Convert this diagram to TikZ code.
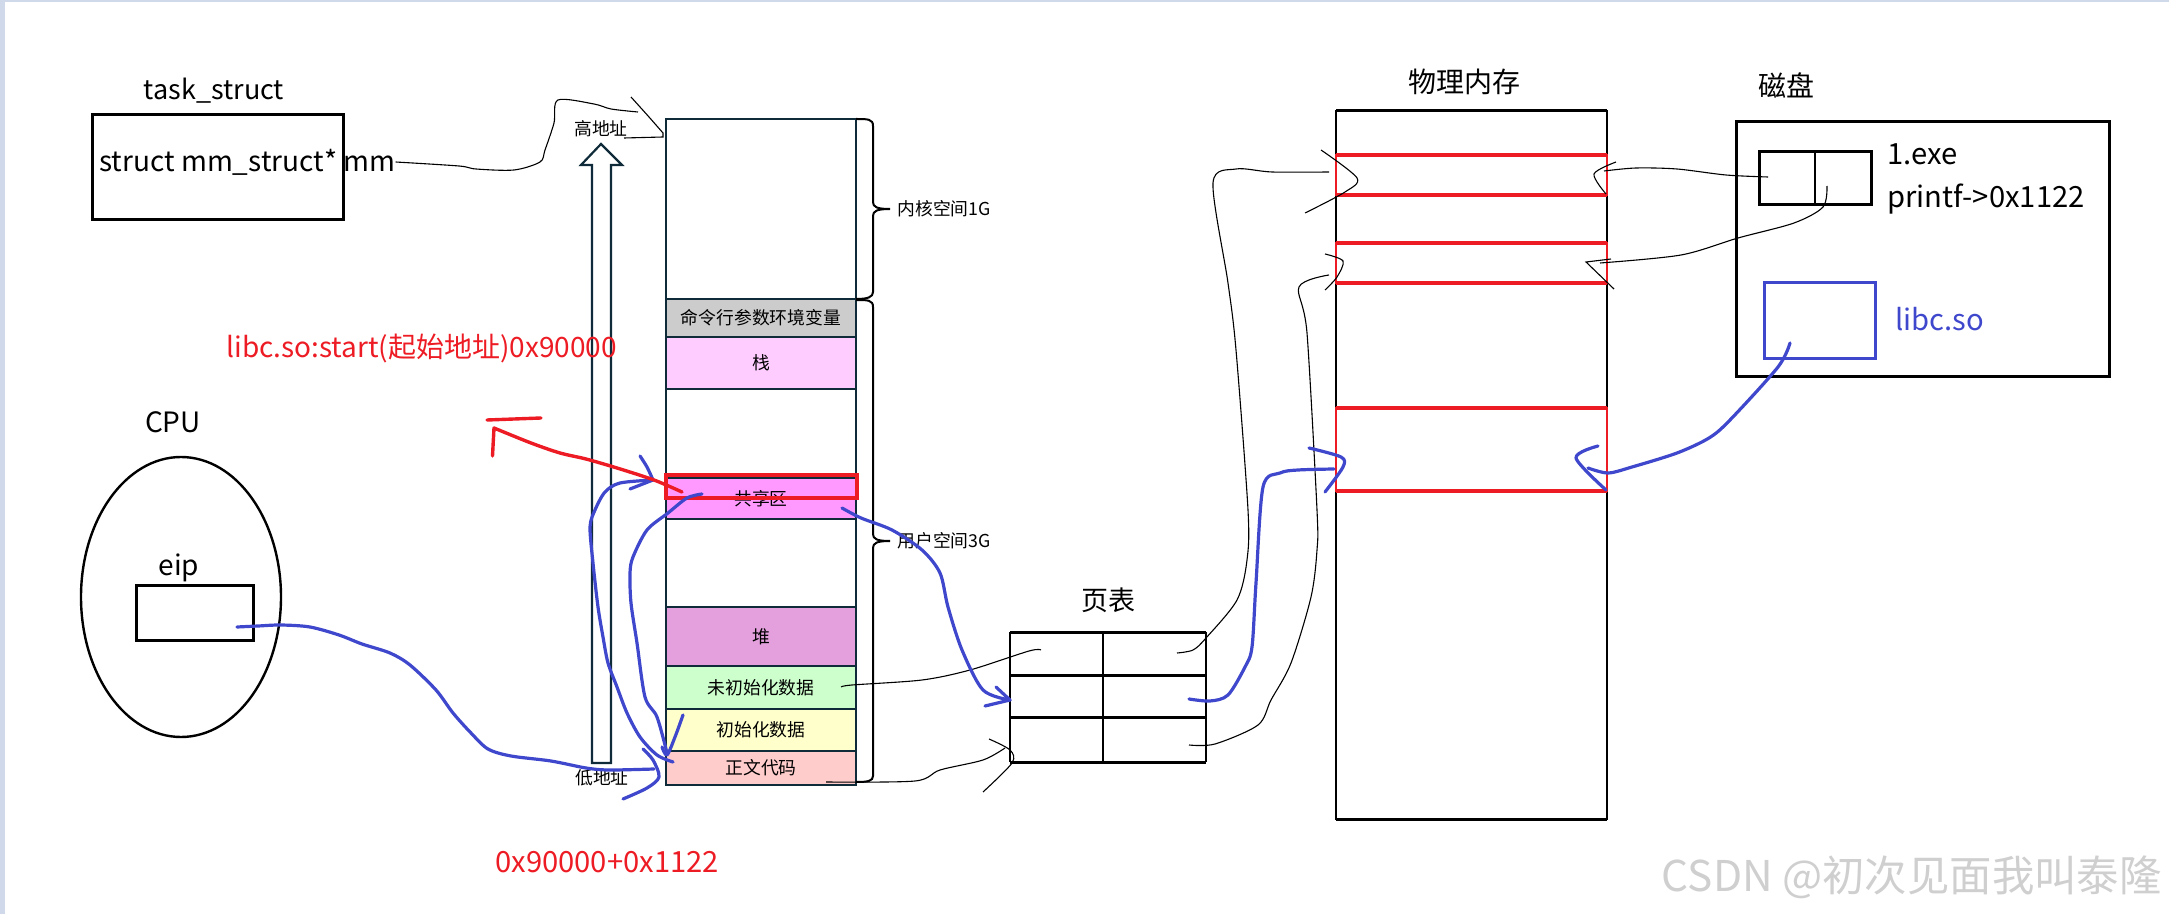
\documentclass[tikz,border=0pt]{standalone}
\usepackage{fontspec}
\usetikzlibrary{shapes.geometric}
\setmainfont{Noto Sans CJK SC}
\definecolor{inkblue}{HTML}{3F48CC}
\definecolor{inkred}{HTML}{ED1C24}
\definecolor{memline}{HTML}{0F2B3A}
\definecolor{framegray}{HTML}{CFD9EA}
\definecolor{markgray}{HTML}{CFCFCF}
\tikzset{
    smalltxt/.style={font=\fontsize{8.9pt}{10pt}\selectfont, inner sep=0pt},
    bigtxt/.style={font=\fontsize{13.5pt}{15pt}\selectfont, inner sep=0pt},
    midtxt/.style={font=\fontsize{14pt}{16pt}\selectfont, inner sep=0pt},
    widetxt/.style={font=\fontsize{14.6pt}{16pt}\selectfont, inner sep=0pt},
    memcell/.style={draw=memline, line width=1.2pt, minimum width=95pt, inner sep=0pt, outer sep=0pt},
    blackbox/.style={draw=black, line width=1.5pt, inner sep=0pt, outer sep=0pt},
    heavypen/.style={black, line width=1.5pt},
    lightpen/.style={black, line width=1pt},
    hair/.style={black, line width=0.55pt},
    bluepen/.style={inkblue, line width=1.6pt, line cap=round, line join=round},
    redpen/.style={inkred, line width=1.7pt, line cap=round, line join=round},
    ink/.style={smooth, tension=0.5}
}
\begin{document}
\begin{tikzpicture}[x=0.5pt, y=-0.5pt]
    \useasboundingbox (0,0) rectangle (2169,914);
    \fill[framegray] (0,0) rectangle (2169,2);
    \fill[framegray] (0,0) rectangle (5,914);

    % task_struct
    \node[bigtxt] (task_label) at (214,91) {task\_struct};
    \node[blackbox, minimum width=125.5pt, minimum height=52.5pt] (task_box) at (217.5,167.5) {};
    \node[midtxt, anchor=west] (mm_text) at (99,162) {struct mm\_struct* mm};

    % CPU
    \node[midtxt] (cpu_label) at (173,422) {CPU};
    \node[draw, ellipse, line width=1.2pt, minimum width=100pt, minimum height=140pt, inner sep=0pt] (cpu) at (181,597) {};
    \node[blackbox, minimum width=58.5pt, minimum height=27.5pt] (eip_box) at (194.5,612.5) {};
    \node[midtxt] (eip_label) at (179,568) {eip};
    \coordinate (eip_out) at (237,627);

    % address arrow
    \draw[memline, line width=1.1pt, line join=miter] (592,763) -- (592,165) -- (581,165) -- (601,144)
        -- (622,165) -- (611,165) -- (611,763) -- cycle;
    \node[smalltxt] (high_addr) at (601,129) {高地址};
    \node[smalltxt] (low_addr) at (602,778) {低地址};

    % address space
    \node[memcell, minimum height=90pt] (kernel) at (761,209) {};
    \node[memcell, fill=gray!40, minimum height=19pt, smalltxt] (args) at (761,318) {命令行参数环境变量};
    \node[memcell, fill={rgb,255:red,255;green,204;blue,255}, minimum height=26pt, smalltxt] (stack) at (761,363) {栈};
    \node[memcell, minimum height=44.5pt] (gap_top) at (761,433.5) {};
    \node[memcell, fill={rgb,255:red,255;green,153;blue,255}, minimum height=20.5pt, smalltxt] (shared) at (761,498.5) {共享区};
    \node[memcell, minimum height=44pt] (gap_low) at (761,563) {};
    \node[memcell, fill={rgb,255:red,227;green,160;blue,220}, minimum height=29.5pt, smalltxt] (heap) at (761,636.5) {堆};
    \node[memcell, fill={rgb,255:red,204;green,255;blue,204}, minimum height=21.5pt, smalltxt] (bss) at (761,687.5) {未初始化数据};
    \node[memcell, fill={rgb,255:red,255;green,255;blue,204}, minimum height=21pt, smalltxt] (data) at (761,730) {初始化数据};
    \node[memcell, fill={rgb,255:red,255;green,204;blue,204}, minimum height=17pt, smalltxt] (text_seg) at (761,768) {正文代码};
    \draw[redpen, line join=miter] (666,475) rectangle (857,498);

    % braces
    \draw[lightpen] (856,119) .. controls (868,119) and (873,119) .. (873,126) -- (873,202)
        .. controls (873,207) and (877,209) .. (890,209) .. controls (877,209) and (873,211) .. (873,216)
        -- (873,292) .. controls (873,297) and (868,299) .. (856,299);
    \draw[lightpen] (856,300) .. controls (868,300) and (873,300) .. (873,307) -- (873,534)
        .. controls (873,539) and (877,541) .. (890,541) .. controls (877,541) and (873,543) .. (873,548)
        -- (873,776) .. controls (873,781) and (868,782) .. (856,782);
    \node[smalltxt, anchor=west] (kernel_label) at (897,209) {内核空间1G};
    \node[smalltxt, anchor=west] (user_label) at (897,541) {用户空间3G};

    % page table
    \node[bigtxt] (ptable_label) at (1108,600) {页表};
    \node[inner sep=0pt, outer sep=0pt, minimum width=98pt, minimum height=65pt] (ptable) at (1108,697) {};
    \foreach \y in {632,675,717,762}
        \draw[heavypen] (1010,\y) -- (1206,\y);
    \foreach \x in {1010,1103,1206}
        \draw[lightpen] (\x,632) -- (\x,762);
    \coordinate (row_one) at (1177,653);
    \coordinate (row_two) at (1189,699);
    \coordinate (row_three) at (1189,745);

    % physical memory
    \node[midtxt] (phys_label) at (1464,82) {物理内存};
    \node[draw, line width=1.1pt, inner sep=0pt, outer sep=0pt, minimum width=135.5pt, minimum height=354pt] (phys) at (1471.5,465) {};
    \draw[heavypen] (phys.north west) -- (phys.north east);
    \draw[heavypen] (phys.south west) -- (phys.south east);
    \foreach \t/\b in {155/195,243/283,408/491} {
        \draw[inkred, line width=1pt] (1336,\t) rectangle (1607,\b);
        \draw[inkred, line width=1.7pt] (1336,\t) -- (1607,\t);
        \draw[inkred, line width=1.7pt] (1336,\b) -- (1607,\b);
    }

    % disk
    \node[midtxt] (disk_label) at (1786,85) {磁盘};
    \node[blackbox, minimum width=186.5pt, minimum height=127.5pt] (disk) at (1922.5,249.5) {};
    \draw[blackbox, fill=none] (1759,152) rectangle (1871,205);
    \draw[lightpen] (1815,152) -- (1815,205);
    \node[widetxt, anchor=west] (exe_label) at (1887,154) {1.exe};
    \node[widetxt, anchor=west] (printf_label) at (1887,199) {printf->0x1122};
    \draw[inkblue, line width=1.5pt] (1764,283) rectangle (1875,359);
    \node[widetxt, inkblue, anchor=west] (libc_label) at (1895,319) {libc.so};
    \coordinate (exe_left) at (1768,177);
    \coordinate (exe_right) at (1827,186);
    \coordinate (libc_out) at (1790,343);

    % thin hand drawn links
    \draw[hair] plot[ink] coordinates {(mm_text.east) (459,166) (476,169) (514,170) (540,162) (545,150) (554,123) (558,100) (594,104) (611,109) (638,112)};
    \draw[hair] plot[ink] coordinates {(631,97) (649,117) (663,133)} -- (663,137) -- (624,138);
    \draw[hair] plot[ink] coordinates {(841,687) (852,685) (922,680) (970,670) (1029,651) (1041,650)};
    \draw[hair] plot[ink] coordinates {(826,782) (915,781) (940,770) (983,760) (1005,748)};
    \draw[hair] plot[ink] coordinates {(989,739) (1010,750) (1012,763) (983,792)};
    \draw[hair] plot[ink] coordinates {(row_one) (1193,650) (1206,638) (1237,600) (1247,560) (1248,510) (1236,350) (1228,283) (1213,183) (1236,169) (1272,172) (1329,172)};
    \draw[hair] plot[ink] coordinates {(1321,150) (1357,178) (1345,192) (1305,213)};
    \draw[hair] plot[ink] coordinates {(row_three) (1215,744) (1258,725) (1271,700) (1291,663) (1311,597) (1317,550) (1317,510) (1307,333) (1299,287) (1329,275)};
    \draw[hair] plot[ink] coordinates {(1325,254) (1343,261) (1337,277) (1325,290)};
    \draw[hair] plot[ink] coordinates {(exe_left) (1726,175) (1677,169) (1636,168) (1604,171)};
    \draw[hair] plot[ink] coordinates {(1616,162) (1594,174) (1606,194)};
    \draw[hair] plot[ink] coordinates {(exe_right) (1823,207) (1794,223) (1738,238) (1681,255) (1600,263)};
    \draw[hair] (1611,259) -- (1586,262) -- (1614,289);

    % blue links
    \draw[bluepen] plot[ink] coordinates {(eip_out) (258,626) (281,625) (310,627) (339,635) (362,644) (390,653) (410,665) (436,690) (453,713) (471,733) (488,749) (511,756) (551,761) (586,768) (609,770) (654,769)};
    \draw[bluepen] plot[ink] coordinates {(643,749) (653,760) (659,777) (647,788) (623,799)};
    \draw[bluepen] plot[ink] coordinates {(673,762) (657,755) (640,737) (627,713) (617,687) (608,663) (603,637) (598,607) (593,563) (590,527) (595,510) (605,492) (620,483) (653,480)};
    \draw[bluepen] plot[ink] coordinates {(640,456) (647,467) (653,480)} -- (630,489);
    \draw[bluepen] plot[ink] coordinates {(702,494) (687,498) (668,513) (647,530) (633,557) (630,573) (631,603) (637,643) (645,697) (657,717) (667,753)};
    \draw[bluepen] plot[ink] coordinates {(683,715) (675,737) (667,755) (662,747)};
    \draw[bluepen] plot[ink] coordinates {(842,508) (861,518) (892,530) (922,550) (940,573) (948,607) (962,650) (983,690) (1010,700)};
    \draw[bluepen] (996,687) -- (1010,700) -- (985,706);
    \draw[bluepen] plot[ink] coordinates {(row_two) (1210,701) (1228,695) (1245,667) (1252,647) (1256,583) (1263,487) (1280,473) (1298,470) (1334,469)};
    \draw[bluepen] plot[ink] coordinates {(1309,448) (1341,457) (1343,467) (1325,492)};
    \draw[bluepen] plot[ink] coordinates {(libc_out) (1778,367) (1730,420) (1709,438) (1677,453) (1632,467) (1608,473) (1588,468)};
    \draw[bluepen] plot[ink] coordinates {(1598,446) (1576,458) (1606,490)};

    % red mark
    \draw[redpen] plot[ink] coordinates {(682,492) (654,480) (617,468) (586,459) (560,453) (531,443) (494,428)} -- (492.5,456);
    \draw[redpen] (487,420) -- (541,418);
    \node[midtxt, inkred, anchor=west] (start_label) at (226,348) {libc.so:start(起始地址)0x90000};
    \node[widetxt, inkred, anchor=west] (sum_label) at (495,862) {0x90000+0x1122};

    % watermark
    \node[font=\fontsize{21.2pt}{23pt}\selectfont, text=markgray, anchor=east, inner sep=0pt] (mark) at (2162,877) {CSDN @初次见面我叫泰隆};
\end{tikzpicture}
\end{document}
